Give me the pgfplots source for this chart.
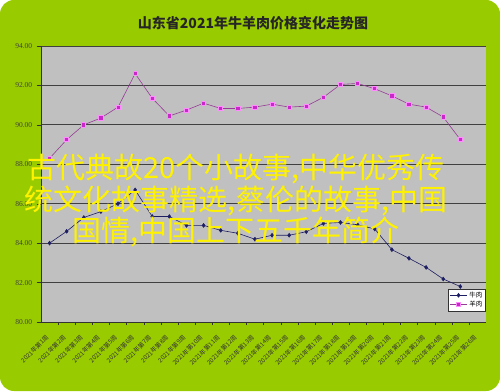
\documentclass[border=0pt]{standalone}
\usepackage{pgfplots}
\pgfplotsset{compat=1.18}
\usepackage{fontspec}
\setmainfont{Liberation Serif}
\newfontfamily\cjk{Noto Sans CJK SC}
\definecolor{bggreen}{RGB}{153,204,0}
\definecolor{plotgray}{RGB}{192,192,192}
\definecolor{beef}{RGB}{30,30,100}
\definecolor{muttonline}{RGB}{150,60,150}
\definecolor{muttonmark}{RGB}{200,40,200}
\definecolor{muttonglow}{RGB}{255,140,255}
\begin{document}
\begin{tikzpicture}
\path[use as bounding box] (0,0) rectangle (500pt,391pt);
\fill[white] (0,0) rectangle (500pt,391pt);
\fill[bggreen, rounded corners=14pt] (0,0) rectangle (500pt,391pt);
\node[font=\cjk\bfseries\fontsize{14}{16}\selectfont, text=black!85] at (253pt,368pt) {山东省2021年牛羊肉价格变化走势图};
\begin{axis}[
  at={(41pt,69pt)}, anchor=south west,
  width=445pt, height=276pt, scale only axis,
  xmin=0.5, xmax=26.5, ymin=80, ymax=94,
  axis x line=bottom, axis y line=left,
  axis line style={-, black!80, line width=0.8pt},
  axis background/.style={fill=plotgray},
  ytick={80,82,...,94},
  ymajorgrids, major grid style={black!75, line width=0.8pt},
  y tick label style={font=\fontsize{7.5}{8}\selectfont, text=black!75},
  /pgf/number format/assume math mode=true,
  yticklabel={\pgfmathprintnumber[fixed, fixed zerofill, precision=2]{\tick}},
  ytick style={black!80}, y tick label style={xshift=-1pt},
  xtick={1,...,26}, major x tick style={draw=none},
  minor xtick={1.5,2.5,...,25.5},
  minor x tick style={black!80}, minor tick length=3pt,
  tick align=outside,
  xticklabels={2021年第1周,2021年第2周,2021年第3周,2021年第4周,2021年第5周,2021年第6周,2021年第7周,2021年第8周,2021年第9周,2021年第10周,2021年第11周,2021年第12周,2021年第13周,2021年第14周,2021年第15周,2021年第16周,2021年第17周,2021年第18周,2021年第19周,2021年第20周,2021年第21周,2021年第22周,2021年第23周,2021年第24周,2021年第25周,2021年第26周},
  x tick label style={font=\cjk\fontsize{6.2}{7}\selectfont, rotate=45, anchor=north east, text=black!80, xshift=-8pt, yshift=-2pt, inner sep=0.5pt},
  legend style={at={(0.999,0.04)}, anchor=south east, font=\cjk\fontsize{6.5}{7}\selectfont, draw=black!80, fill=white, inner sep=1pt, row sep=-2pt, cells={anchor=west}},
  legend cell align=left,
]
\addplot[color=beef, line width=0.6pt, mark=diamond*, mark size=1.9pt, mark options={fill=beef}] coordinates {
(1,84.0) (2,84.6) (3,85.3) (4,85.6) (5,86.0) (6,86.7) (7,85.35) (8,85.35) (9,84.9) (10,84.9)
(11,84.65) (12,84.5) (13,84.2) (14,84.4) (15,84.4) (16,84.58) (17,85.0) (18,85.05) (19,84.93) (20,84.72)
(21,83.67) (22,83.23) (23,82.77) (24,82.18) (25,81.8)};
\addlegendentry{牛肉}
\addplot[color=muttonline, line width=0.6pt, mark=square*, mark size=2.1pt, mark options={fill=muttonmark, draw=muttonglow, line width=0.8pt}] coordinates {
(1,88.3) (2,89.25) (3,90.0) (4,90.35) (5,90.9) (6,92.6) (7,91.35) (8,90.45) (9,90.75) (10,91.1)
(11,90.83) (12,90.83) (13,90.9) (14,91.05) (15,90.9) (16,90.95) (17,91.4) (18,92.05) (19,92.1) (20,91.83)
(21,91.47) (22,91.05) (23,90.9) (24,90.4) (25,89.25)};
\addlegendentry{羊肉}
\end{axis}
\node[font=\cjk\fontsize{29}{31.5}\selectfont, text=yellow, align=center] at (236pt,190pt) {古代典故20个小故事,中华优秀传\\统文化故事精选,蔡伦的故事,中国\\国情,中国上下五千年简介};
\end{tikzpicture}
\end{document}
